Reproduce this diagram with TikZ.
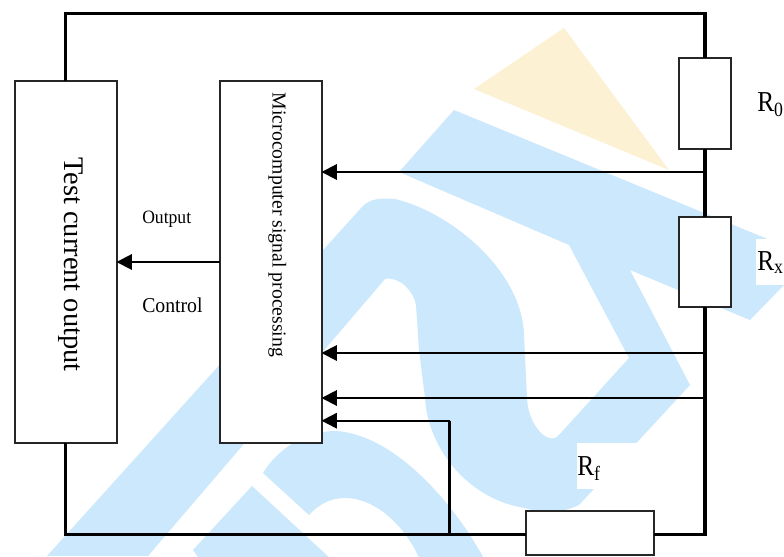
\documentclass[tikz,border=0pt]{standalone}
\usepackage{fontspec}
\setmainfont{Liberation Serif}
\usetikzlibrary{arrows.meta}
\definecolor{wmblue}{HTML}{CCE8FC}
\definecolor{wmyellow}{HTML}{FDF1D3}
\newcommand{\tall}[1]{\scalebox{1}[1.14]{#1}}
\tikzset{
  x=0.75pt,y=-0.75pt,
  wire/.style={line width=2.5pt,black},
  sig/.style={line width=1.5pt,black,-{Triangle[length=11.5pt,width=11.5pt]}},
  blockbox/.style={draw=black!85,line width=1.5pt,fill=white,inner sep=0pt,outer sep=0pt},
  lab/.style={inner sep=0pt,anchor=base west,font=\fontsize{19}{21}\selectfont},
  mask/.style={fill=white,draw=none},
  wm/.style={fill=wmblue,draw=none}
}
\begin{document}
\begin{tikzpicture}
\useasboundingbox (0,0) rectangle (784,556);
\fill[white] (0,0) rectangle (784,556);
% watermark
\begin{scope}
\clip (0,0) rectangle (784,556);
\fill[wmyellow] (564,28) -- (474,89) -- (669,170) -- cycle;
\fill[wm] (454,110) -- (765,238) -- (784,246) -- (784,285) -- (750,320) -- (630,270) -- (690,385) -- (579,505)
  .. controls (560,514) and (540,513) .. (525,508)
  .. controls (470,500) and (428,450) .. (425,398)
  -- (419,350) -- (416,305)
  .. controls (414,292) and (400,276) .. (385,279)
  -- (148,556) -- (47,556) -- (362,207)
  .. controls (370,198) and (382,198) .. (395,199)
  .. controls (450,212) and (522,270) .. (524,335)
  -- (527,398)
  .. controls (528,425) and (548,447) .. (559,435)
  -- (629,358) -- (569,245) -- (399,172) -- cycle;
\fill[wm] (263,473)
  .. controls (280,445) and (310,431) .. (335,431)
  .. controls (380,433) and (430,475) .. (470,535)
  -- (485,560) -- (420,560)
  .. controls (405,525) and (375,498) .. (345,498)
  .. controls (330,498) and (318,505) .. (309,515) -- cycle;
\fill[wm] (252,486) -- (193,550) -- (200,560) -- (332,560) -- cycle;
\fill[mask] (577,443) rectangle (640,489);
\fill[mask] (756,239) rectangle (784,285);
\end{scope}
% free corners
\coordinate (tr) at (705,13.5);
\coordinate (br) at (705,534.7);
\coordinate (bl) at (65.5,534.7);
\coordinate (tapa) at (705,172);
\coordinate (tapb) at (705,353);
\coordinate (tapc) at (705,398);
\coordinate (tapd) at (449.5,534.7);
\coordinate (cornd) at (449.5,420.7);
% blocks
\node[blockbox,minimum width=76.5pt,minimum height=271.5pt] (test) at (65.5,262) {};
\node[blockbox,minimum width=76.5pt,minimum height=271.5pt] (micro) at (270.5,262) {};
\node[blockbox,minimum width=38.5pt,minimum height=68pt] (rzero) at (705,103.5) {};
\node[blockbox,minimum width=38.5pt,minimum height=68pt] (rx) at (705,262) {};
\node[blockbox,minimum width=95.5pt,minimum height=33pt] (rf) at (590,533) {};
% wires
\draw[wire,line join=miter] (test.north) |- (tr) -- (rzero.north);
\draw[wire] (rzero.south) -- (rx.north);
\draw[wire,line join=miter] (rx.south) -- (br) -- (rf.east |- br);
\draw[wire,line join=miter] (test.south) |- (rf.west |- bl);
% signal arrows
\draw[sig] (tapa) -- (micro.east |- tapa);
\draw[sig] (tapb) -- (micro.east |- tapb);
\draw[sig] (tapc) -- (micro.east |- tapc);
\draw[wire] (tapd) -- (cornd);
\draw[sig] (cornd) -- (micro.east |- cornd);
\draw[sig] (micro.west) -- (test.east);
% labels
\node[inner sep=0pt,anchor=base west,font=\fontsize{21.3}{24}\selectfont,rotate=-90] (ttest) at (64.5,157) {Test current output};
\node[inner sep=0pt,anchor=base west,font=\fontsize{14.8}{16}\selectfont,rotate=-90] (tmicro) at (272.5,92.7) {Microcomputer signal processing};
\node[inner sep=0pt,anchor=base west,font=\fontsize{13.2}{15}\selectfont] (tout) at (142,223) {\scalebox{1}[1.07]{Output}};
\node[inner sep=0pt,anchor=base west,font=\fontsize{14.8}{16}\selectfont] (tctl) at (142,312) {\scalebox{1}[1.07]{Control}};
\node[lab] (lzero) at (757,112) {\tall{R\textsubscript{0}}};
\node[lab] (lx) at (757,270) {\tall{R\textsubscript{x}}};
\node[lab] (lf) at (577,475) {\tall{R\textsubscript{f}}};
\end{tikzpicture}
\end{document}
